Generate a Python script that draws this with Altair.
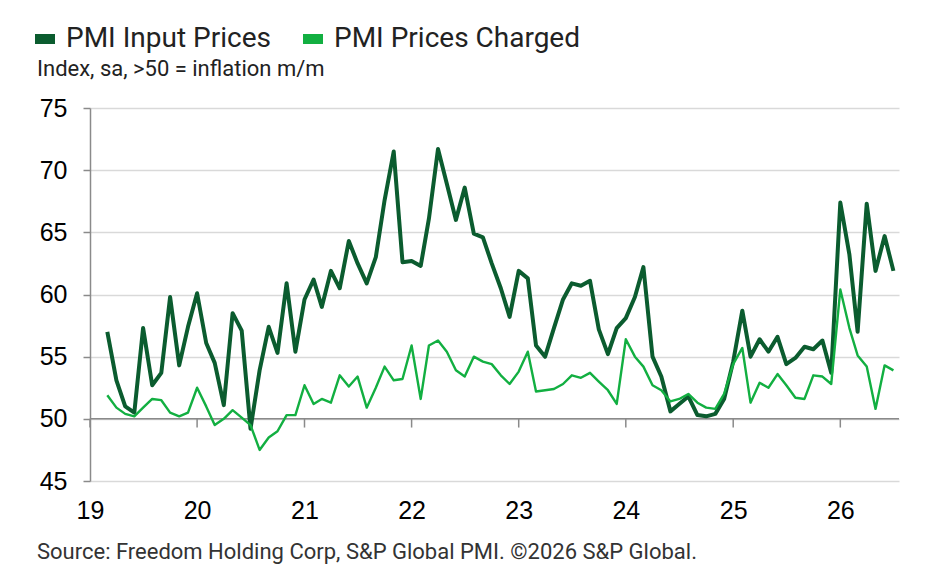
import altair as alt
import pandas as pd

# Monthly readings, Mar 2019 .. Jul 2026
input_prices = [
    57.0, 53.1, 51.0, 50.5, 57.3, 52.7, 53.7, 59.8, 54.3, 57.4,
    60.1, 56.1, 54.5, 51.1, 58.5, 57.1, 49.2, 53.9, 57.4, 55.3, 60.9, 55.4,
    59.6, 61.2, 59.0, 61.9, 60.5, 64.3, 62.5, 60.9, 63.0, 67.6, 71.5, 62.6,
    62.7, 62.3, 66.1, 71.7, 68.9, 66.0, 68.6, 64.9, 64.6, 62.5, 60.5, 58.2,
    61.9, 61.3, 55.9, 55.0, 57.3, 59.6, 60.9, 60.7, 61.1, 57.2, 55.2, 57.3,
    58.1, 59.8, 62.2, 55.0, 53.4, 50.6, 51.2, 51.8, 50.3, 50.2, 50.4, 51.6,
    54.6, 58.7, 55.0, 56.4, 55.4, 56.6, 54.4, 54.9, 55.8, 55.6, 56.3, 53.7,
    67.4, 63.2, 57.0, 67.3, 61.9, 64.7, 61.9,
]
prices_charged = [
    51.9, 50.9, 50.4, 50.2, 50.9, 51.6, 51.5, 50.5, 50.2, 50.5,
    52.5, 51.0, 49.5, 50.0, 50.7, 50.1, 49.5, 47.5, 48.5, 49.0, 50.3, 50.3,
    52.7, 51.2, 51.6, 51.3, 53.5, 52.6, 53.4, 50.9, 52.5, 54.2, 53.1, 53.2,
    55.9, 51.6, 55.9, 56.3, 55.4, 53.9, 53.4, 55.0, 54.6, 54.4, 53.5, 52.8,
    53.8, 55.4, 52.2, 52.3, 52.4, 52.8, 53.5, 53.3, 53.7, 53.0, 52.3, 51.2,
    56.4, 55.0, 54.2, 52.7, 52.3, 51.4, 51.6, 52.0, 51.3, 50.9, 50.8, 52.0,
    54.4, 55.7, 51.3, 52.9, 52.5, 53.6, 52.7, 51.7, 51.6, 53.5, 53.4, 52.8,
    60.4, 57.3, 55.1, 54.2, 50.8, 54.3, 53.9,
]
months = pd.date_range("2019-03-01", periods=len(input_prices), freq="MS").strftime("%Y-%m-%dT00:00:00").tolist()
series_names = ["PMI Input Prices", "PMI Prices Charged"]
series_colors = ["#0B5C2F", "#12AF41"]
years = list(range(2019, 2027))
y_ticks = [45, 50, 55, 60, 65, 70, 75]
subtitle = "Index, sa, >50 = inflation m/m"
source = "Source: Freedom Holding Corp, S&P Global PMI. \u00a92026 S&P Global."

df = pd.DataFrame({
    "date": months * 2,
    "value": input_prices + prices_charged,
    "series": [series_names[0]] * len(months) + [series_names[1]] * len(months),
})
year_df = pd.DataFrame({"date": [f"{y}-01-01T00:00:00" for y in years]})
one = pd.DataFrame({"a": [0]})

x_scale = alt.Scale(domain=[alt.DateTime(year=2019, month=1, date=1),
                            alt.DateTime(year=2026, month=7, date=20)])
y_scale = alt.Scale(domain=[45, 75], nice=False, zero=False)

x_enc = alt.X("date:T", scale=x_scale, axis=alt.Axis(
    values=[alt.DateTime(year=y, month=1, date=1) for y in years],
    format="%y", labelFontSize=25, labelFont="Liberation Sans", labelColor="#000",
    ticks=False, domain=False, grid=False, labelPadding=17, labelFlush=False,
    labelOverlap=False, title=None))
y_enc = alt.Y("value:Q", scale=y_scale, axis=alt.Axis(
    values=y_ticks, labelFontSize=25, labelFont="Liberation Sans", labelColor="#000",
    tickSize=7, tickColor="#8a8a8a", tickWidth=1.5, domainColor="#8a8a8a",
    domainWidth=1.5, gridColor="#d9d9d9", gridWidth=1.5, labelPadding=16, title=None))

color_enc = alt.Color("series:N", scale=alt.Scale(domain=series_names, range=series_colors),
                      legend=alt.Legend(orient="none", legendX=-60, legendY=-84,
                                        direction="horizontal", title=None,
                                        symbolType="stroke", symbolSize=400,
                                        symbolStrokeWidth=10, labelFontSize=28,
                                        labelFont="Roboto", labelColor="#222",
                                        labelLimit=0, labelOffset=6,
                                        columnPadding=12, padding=0))

base = alt.Chart(df).encode(x=x_enc, y=y_enc, color=color_enc)

dark = base.transform_filter(alt.datum.series == series_names[0]).mark_line(strokeWidth=4, strokeJoin="round")
light = base.transform_filter(alt.datum.series == series_names[1]).mark_line(strokeWidth=2.4, strokeJoin="round")

rule50 = alt.Chart(one).transform_calculate(v="50").mark_rule(
    color="#8a8a8a", strokeWidth=1.5).encode(y=alt.Y("v:Q", scale=y_scale))
ticks50 = alt.Chart(year_df).transform_calculate(y1="50", y2="49.3").mark_rule(
    color="#8a8a8a", strokeWidth=1.5).encode(
    x=alt.X("date:T", scale=x_scale), y=alt.Y("y1:Q", scale=y_scale), y2="y2:Q")

sub = alt.Chart(one).mark_text(text=subtitle, font="Roboto", fontSize=22, color="#222",
                               align="left", baseline="alphabetic").encode(
    x=alt.value(-53), y=alt.value(-32))
src = alt.Chart(one).mark_text(text=source, font="Roboto", fontSize=22, color="#333",
                               align="left", baseline="alphabetic").encode(
    x=alt.value(-53), y=alt.value(451))

chart = alt.layer(rule50, ticks50, dark, light, sub, src).properties(
    width=809, height=373,
    autosize=alt.AutoSizeParams(type="none"),
    padding={"left": 82, "top": 100, "right": 20, "bottom": 90},
).configure_view(stroke=None)

chart.save("out.html", embed_options={"renderer": "svg", "actions": False})
